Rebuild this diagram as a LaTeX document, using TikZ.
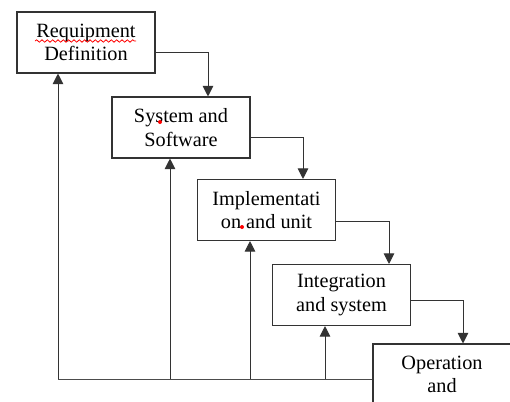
\documentclass[tikz,border=0pt]{standalone}
\usepackage{fontspec}
\setmainfont{Liberation Serif}
\usepackage{tikz}
\usetikzlibrary{arrows.meta, calc, decorations.pathmorphing}

\tikzset{
  stage/.style={draw=black!80, line width=0.8pt, minimum width=103.5pt, minimum height=45.75pt,
    inner sep=0pt, align=center, font=\fontsize{15.2}{17.5}\selectfont},
  flow/.style={draw=black!80, line width=0.75pt, -{Triangle[length=8pt, width=8pt]}},
  back/.style={draw=black!70, line width=0.75pt}
}

\begin{document}
\begin{tikzpicture}[x=0.75pt, y=-0.75pt]
  \clip (0,0) rectangle (510,401);
  \fill[white] (0,0) rectangle (510,401);

  % the five stages, stepping down to the right
  \node[stage] (req) at (86, 42.5) {Requipment\\Definition};
  \node[stage] (sys) at (181, 127.5) {System and\\Software};
  \node[stage] (impl) at (266.5, 210) {Implementati\\on and unit};
  \node[stage] (integ) at (341.5, 295) {Integration\\and system};
  \node[stage] (oper) at (442, 374.5) {Operation\\and};

  % spell-check marks
  \draw[red, line width=0.6pt, decorate, decoration={snake, amplitude=0.9, segment length=4}]
    (35,41) -- (136,41);
  \fill[red] (160,122) circle (2);
  \fill[red] (242,227) circle (2);

  % forward flow
  \draw[flow] ($(req.east)+(0,9.5)$) -| ($(sys.north)+(27,0)$);
  \draw[flow] ($(sys.east)+(0,9.5)$) -| ($(impl.north)+(36.5,0)$);
  \draw[flow] ($(impl.east)+(0,11)$) -| ($(integ.north)+(47.5,0)$);
  \draw[flow] ($(integ.east)+(0,5)$) -| ($(oper.north)+(21,0)$);

  % feedback line along the bottom
  \coordinate (fb) at (58, 379);
  \draw[back] (fb) -- (fb -| oper.west);
  \draw[flow] (fb) -- (fb |- req.south);
  \draw[flow] (fb -| 170,0) -- (170,0 |- sys.south);
  \draw[flow] (fb -| 250,0) -- (250,0 |- impl.south);
  \draw[flow] (fb -| 325,0) -- (325,0 |- integ.south);
\end{tikzpicture}
\end{document}
